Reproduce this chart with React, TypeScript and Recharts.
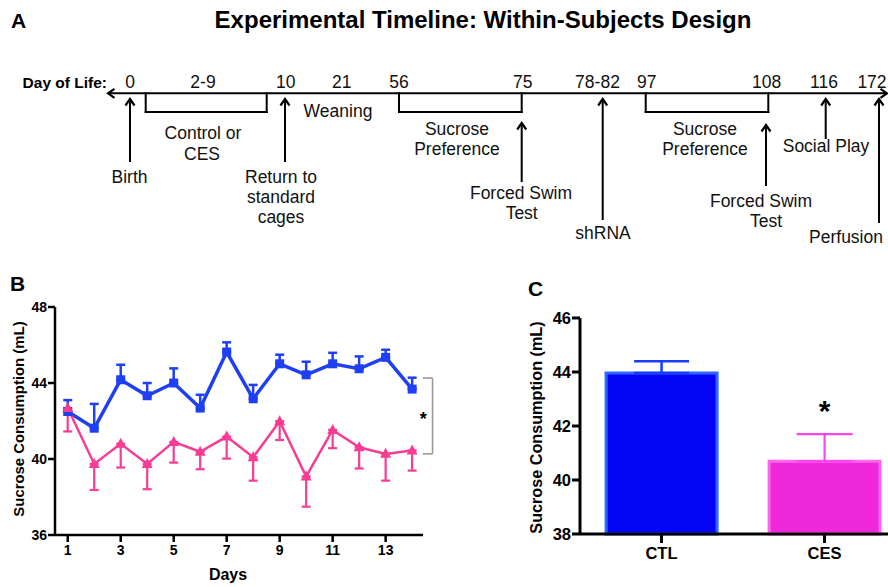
import React from 'react';
import {
  ComposedChart, LineChart, BarChart, Line, Bar, Cell, XAxis, YAxis, Scatter,
  ReferenceLine, ReferenceDot, ErrorBar,
} from 'recharts';

const FONT = '"Liberation Sans", Arial, Helvetica, sans-serif';
const BLUE = '#1f3ff2';
const PINK = '#f73c94';

// ---------- Panel A: timeline (layout units = pixels of the timeline chart) ----------
const tlAxis = { y: 93.3, start: 108, end: 887, bracketDepth: 112 };
const tlDays = [
  { x: 130, label: '0' }, { x: 203, label: '2-9' }, { x: 285.7, label: '10' },
  { x: 341.7, label: '21' }, { x: 399, label: '56' }, { x: 522.7, label: '75' },
  { x: 597.5, label: '78-82' }, { x: 646.7, label: '97' }, { x: 766.7, label: '108' },
  { x: 824, label: '116' }, { x: 872, label: '172' },
];
const tlDayRowY = 88;
const tlArrows = [
  { x: 130, top: 99, bottom: 162 },
  { x: 285, top: 99, bottom: 162 },
  { x: 521.7, top: 123, bottom: 182 },
  { x: 602.7, top: 99, bottom: 220 },
  { x: 766, top: 125, bottom: 186 },
  { x: 825.7, top: 99, bottom: 139 },
  { x: 879, top: 99, bottom: 223 },
];
const tlBrackets = [
  { x1: 145.7, x2: 266.7 },
  { x1: 399, x2: 521.7 },
  { x1: 645.7, x2: 768.3 },
];
const tlText = [
  { x: 129.5, y: 182.7, label: 'Birth' },
  { x: 203, y: 139, label: 'Control or' },
  { x: 202, y: 160, label: 'CES' },
  { x: 281, y: 182.7, label: 'Return to' },
  { x: 281, y: 202.7, label: 'standard' },
  { x: 281, y: 222.7, label: 'cages' },
  { x: 338, y: 117.3, label: 'Weaning' },
  { x: 457, y: 134.5, label: 'Sucrose' },
  { x: 457, y: 155, label: 'Preference' },
  { x: 521, y: 199.3, label: 'Forced Swim' },
  { x: 521.7, y: 219.3, label: 'Test' },
  { x: 603, y: 239.3, label: 'shRNA' },
  { x: 705, y: 134.5, label: 'Sucrose' },
  { x: 705, y: 155, label: 'Preference' },
  { x: 761, y: 206.7, label: 'Forced Swim' },
  { x: 766, y: 226.7, label: 'Test' },
  { x: 826, y: 151.7, label: 'Social Play' },
  { x: 846, y: 242.7, label: 'Perfusion' },
];

// ---------- Panel B: daily sucrose consumption ----------
const days = [1, 2, 3, 4, 5, 6, 7, 8, 9, 10, 11, 12, 13, 14];
const dayTicks = [1, 3, 5, 7, 9, 11, 13];
const ctlMean = [42.5, 41.62, 44.17, 43.33, 44.0, 42.68, 45.63, 43.17, 45.01, 44.43, 45.01, 44.75, 45.35, 43.68];
const ctlSem = [0.6, 1.28, 0.79, 0.67, 0.77, 0.7, 0.51, 0.73, 0.48, 0.69, 0.58, 0.65, 0.4, 0.6];
const cesMean = [42.68, 39.74, 40.8, 39.74, 40.9, 40.38, 41.18, 40.09, 41.99, 39.08, 41.53, 40.62, 40.27, 40.45];
const cesSem = [1.23, 1.37, 1.25, 1.33, 1.09, 0.92, 1.16, 1.23, 0.99, 1.59, 0.96, 1.12, 1.41, 1.06];
const yTicksB = [36, 40, 44, 48];
const sigBracketB = { x1: 14.4, x2: 14.77, yTop: 44.26, yBottom: 40.27 };
const sigStarB = { x: 14.42, y: 41.78 };

// ---------- Panel C: mean sucrose consumption ----------
const groups = ['CTL', 'CES'];
const groupMean = [43.96, 40.69];
const groupSem = [0.44, 1.01];
const groupFill = ['#0505f5', '#f028dc'];
const groupStroke = ['#3366ff', '#ff66ee'];
const yTicksC = [38, 40, 42, 44, 46];
const sigStarC = { x: 'CES', y: 42.2 };

const dailyData = days.map((d, i) => ({
  day: d,
  ctl: ctlMean[i],
  ctlErr: [0, ctlSem[i]],
  ces: cesMean[i],
  cesErr: [cesSem[i], 0],
}));

const groupData = groups.map((g, i) => ({
  group: g,
  mean: groupMean[i],
  ctlErr: g === 'CTL' ? [0, groupSem[i]] : undefined,
  cesErr: g === 'CES' ? [0, groupSem[i]] : undefined,
}));

const arrowHeads = [
  { x: tlAxis.start, y: tlAxis.y, dir: 'left' },
  { x: tlAxis.end, y: tlAxis.y, dir: 'right' },
  ...tlArrows.map((a) => ({ x: a.x, y: a.top, dir: 'up' })),
];
const dayLabelPts = tlDays.map((d) => ({ x: d.x, y: tlDayRowY, label: d.label }));
const dayOfLifePt = [{ x: 107, y: tlDayRowY, label: 'Day of Life:' }];

const Chevron = (p: any) => {
  const { cx, cy, payload } = p;
  let d = '';
  if (payload.dir === 'up') d = `M${cx - 4.5},${cy + 6.5} L${cx},${cy} L${cx + 4.5},${cy + 6.5}`;
  else if (payload.dir === 'left') d = `M${cx + 6.5},${cy - 4.5} L${cx},${cy} L${cx + 6.5},${cy + 4.5}`;
  else d = `M${cx - 6.5},${cy - 4.5} L${cx},${cy} L${cx - 6.5},${cy + 4.5}`;
  return <path d={d} fill="none" stroke="#000" strokeWidth={2.2} />;
};

const PlainText = (p: any) => (
  <text x={p.cx} y={p.cy} textAnchor="middle" fontSize={17.5} fontFamily={FONT} fill="#111">
    {p.payload.label}
  </text>
);
const BoldEndText = (p: any) => (
  <text x={p.cx} y={p.cy} textAnchor="end" fontSize={15.5} fontWeight={700} fontFamily={FONT} fill="#000">
    {p.payload.label}
  </text>
);

const SquareDot = (p: any) => (
  <rect key={`sq${p.index}`} x={p.cx - 4.5} y={p.cy - 4.5} width={9} height={9} fill={BLUE} />
);
const TriangleDot = (p: any) => (
  <path
    key={`tr${p.index}`}
    d={`M${p.cx},${p.cy - 6} L${p.cx + 5.5},${p.cy + 4} L${p.cx - 5.5},${p.cy + 4} Z`}
    fill={PINK}
  />
);

const axisStyleB = { stroke: '#000', strokeWidth: 2.5 };
const tickStyleB = { fill: '#000', fontSize: 14, fontWeight: 700, fontFamily: FONT };
const axisStyleC = { stroke: '#000', strokeWidth: 3 };
const tickStyleC = { fill: '#000', fontSize: 16.5, fontWeight: 700, fontFamily: FONT };

export default function App() {
  return (
    <div
      style={{
        position: 'absolute', left: 0, top: 0, width: 888, height: 587,
        overflow: 'hidden', background: '#fff', fontFamily: FONT,
      }}
    >
      <svg width={888} height={587} style={{ position: 'absolute', left: 0, top: 0 }}>
        <text x={483} y={27.5} textAnchor="middle" fontSize={24} fontWeight={700} fontFamily={FONT}>
          Experimental Timeline: Within-Subjects Design
        </text>
        <text x={11} y={27.5} fontSize={21} fontWeight={700} fontFamily={FONT}>A</text>
        <text x={10} y={291} fontSize={21} fontWeight={700} fontFamily={FONT}>B</text>
        <text x={528} y={296} fontSize={21} fontWeight={700} fontFamily={FONT}>C</text>
        <text transform="translate(24,419) rotate(-90)" textAnchor="middle" fontSize={14.9} fontWeight={700} fontFamily={FONT}>
          Sucrose Consumption (mL)
        </text>
        <text x={228} y={580} textAnchor="middle" fontSize={16} fontWeight={700} fontFamily={FONT}>Days</text>
        <text transform="translate(542,427.5) rotate(-90)" textAnchor="middle" fontSize={16.2} fontWeight={700} fontFamily={FONT}>
          Sucrose Consumption (mL)
        </text>
      </svg>

      <div style={{ position: 'absolute', left: 0, top: 0 }}>
        <ComposedChart width={888} height={250} margin={{ top: 0, right: 0, bottom: 0, left: 0 }}>
          <XAxis type="number" dataKey="x" domain={[0, 888]} hide allowDataOverflow />
          <YAxis type="number" dataKey="y" domain={[0, 250]} reversed hide allowDataOverflow />
          <ReferenceLine
            segment={[{ x: tlAxis.start, y: tlAxis.y }, { x: tlAxis.end, y: tlAxis.y }]}
            stroke="#000" strokeWidth={2} ifOverflow="visible"
          />
          {tlArrows.map((a, i) => (
            <ReferenceLine
              key={`ar${i}`}
              segment={[{ x: a.x, y: a.top }, { x: a.x, y: a.bottom }]}
              stroke="#000" strokeWidth={2} ifOverflow="visible"
            />
          ))}
          {tlBrackets.map((b, i) => (
            <ReferenceLine
              key={`bl${i}`}
              segment={[{ x: b.x1, y: tlAxis.y }, { x: b.x1, y: tlAxis.bracketDepth }]}
              stroke="#000" strokeWidth={2} strokeLinecap="square" ifOverflow="visible"
            />
          ))}
          {tlBrackets.map((b, i) => (
            <ReferenceLine
              key={`bb${i}`}
              segment={[{ x: b.x1, y: tlAxis.bracketDepth }, { x: b.x2, y: tlAxis.bracketDepth }]}
              stroke="#000" strokeWidth={2} strokeLinecap="square" ifOverflow="visible"
            />
          ))}
          {tlBrackets.map((b, i) => (
            <ReferenceLine
              key={`br${i}`}
              segment={[{ x: b.x2, y: tlAxis.y }, { x: b.x2, y: tlAxis.bracketDepth }]}
              stroke="#000" strokeWidth={2} strokeLinecap="square" ifOverflow="visible"
            />
          ))}
          <Scatter data={arrowHeads} shape={Chevron} isAnimationActive={false} />
          <Scatter data={dayLabelPts} shape={PlainText} isAnimationActive={false} />
          <Scatter data={dayOfLifePt} shape={BoldEndText} isAnimationActive={false} />
          <Scatter data={tlText} shape={PlainText} isAnimationActive={false} />
        </ComposedChart>
      </div>

      <div style={{ position: 'absolute', left: 0, top: 290 }}>
        <LineChart width={450} height={297} data={dailyData} margin={{ top: 17, right: 27, bottom: 0, left: 0 }}>
          <XAxis
            type="number" dataKey="day" domain={[0.52, 14.41]} ticks={dayTicks} height={52}
            axisLine={axisStyleB} tickLine={axisStyleB} tickSize={7} tickMargin={3} tick={tickStyleB}
            allowDataOverflow interval={0}
          />
          <YAxis
            type="number" domain={[36, 48]} ticks={yTicksB} width={55}
            axisLine={axisStyleB} tickLine={axisStyleB} tickSize={7} tickMargin={1} tick={tickStyleB}
            interval={0}
          />
          <ReferenceLine
            segment={[{ x: sigBracketB.x1, y: sigBracketB.yTop }, { x: sigBracketB.x2, y: sigBracketB.yTop }]}
            stroke="#999" strokeWidth={1.6} ifOverflow="visible"
          />
          <ReferenceLine
            segment={[{ x: sigBracketB.x2, y: sigBracketB.yTop }, { x: sigBracketB.x2, y: sigBracketB.yBottom }]}
            stroke="#999" strokeWidth={1.6} ifOverflow="visible"
          />
          <ReferenceLine
            segment={[{ x: sigBracketB.x1, y: sigBracketB.yBottom }, { x: sigBracketB.x2, y: sigBracketB.yBottom }]}
            stroke="#999" strokeWidth={1.6} ifOverflow="visible"
          />
          <ReferenceDot
            x={sigStarB.x} y={sigStarB.y} r={0} ifOverflow="visible"
            shape={(p: any) => (
              <text x={p.cx} y={p.cy} textAnchor="middle" fontSize={18} fontWeight={700} fontFamily={FONT}>*</text>
            )}
          />
          <Line
            type="linear" dataKey="ctl" stroke={BLUE} strokeWidth={3.5} dot={SquareDot}
            activeDot={false} isAnimationActive={false}
          >
            <ErrorBar dataKey="ctlErr" width={4.5} strokeWidth={2.5} stroke={BLUE} direction="y" />
          </Line>
          <Line
            type="linear" dataKey="ces" stroke={PINK} strokeWidth={2.5} dot={TriangleDot}
            activeDot={false} isAnimationActive={false}
          >
            <ErrorBar dataKey="cesErr" width={4.5} strokeWidth={2.2} stroke={PINK} direction="y" />
          </Line>
        </LineChart>
      </div>

      <div style={{ position: 'absolute', left: 500, top: 280 }}>
        <BarChart
          width={406} height={307} data={groupData} barCategoryGap="16%"
          margin={{ top: 38, right: 0, bottom: 0, left: 0 }}
        >
          <XAxis
            type="category" dataKey="group" height={53}
            axisLine={axisStyleC} tickLine={axisStyleC} tickSize={9} tickMargin={4} tick={tickStyleC}
          />
          <YAxis
            type="number" domain={[38, 46]} ticks={yTicksC} width={80}
            axisLine={axisStyleC} tickLine={axisStyleC} tickSize={8} tickMargin={1} tick={tickStyleC}
            interval={0}
          />
          <Bar dataKey="mean" isAnimationActive={false} strokeWidth={3}>
            {groupData.map((g, i) => (
              <Cell key={g.group} fill={groupFill[i]} stroke={groupStroke[i]} />
            ))}
            <ErrorBar dataKey="ctlErr" width={27.5} strokeWidth={2.5} stroke="#1a3cff" direction="y" />
            <ErrorBar dataKey="cesErr" width={28} strokeWidth={2.2} stroke="#ff44ee" direction="y" />
          </Bar>
          <ReferenceDot
            x={sigStarC.x} y={sigStarC.y} r={0} ifOverflow="visible"
            shape={(p: any) => (
              <text x={p.cx} y={p.cy} textAnchor="middle" fontSize={30} fontWeight={700} fontFamily={FONT}>*</text>
            )}
          />
        </BarChart>
      </div>
    </div>
  );
}
